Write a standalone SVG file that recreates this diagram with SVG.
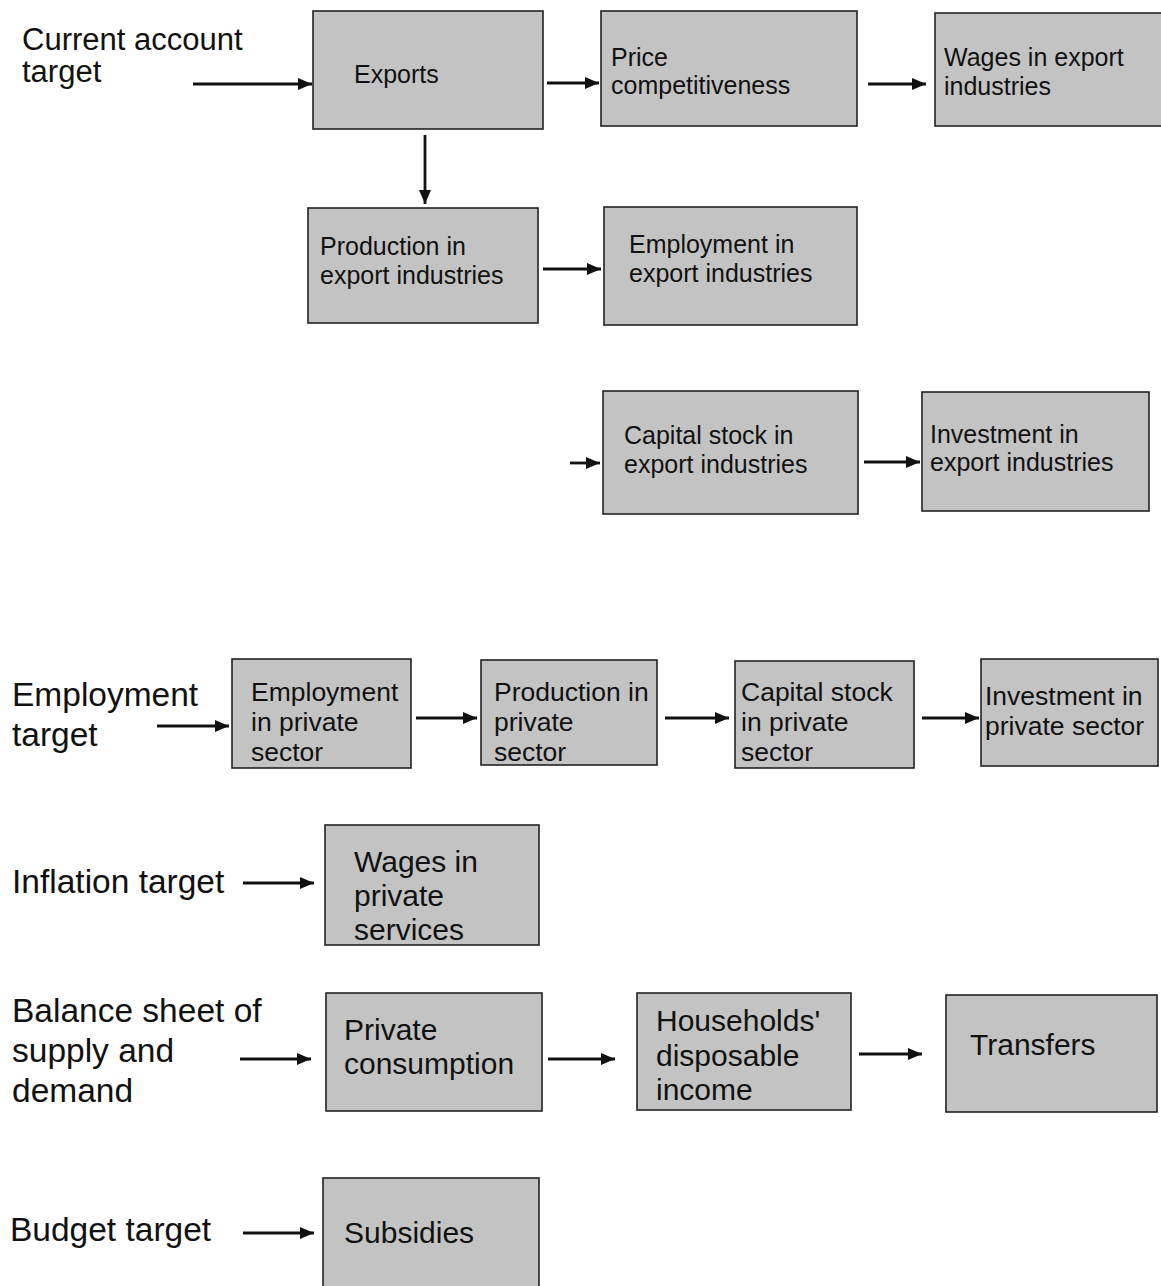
<svg xmlns="http://www.w3.org/2000/svg" width="1161" height="1286" viewBox="0 0 1161 1286">
<style>
.box{fill:#c3c3c3;stroke:#222;stroke-width:1.6}
.t{font-family:"Liberation Sans",Arial,sans-serif;fill:#111}
.s25{font-size:25px}
.s27{font-size:26.5px}
.s30{font-size:30px}
.lab{font-size:33.5px}
.conn{stroke:#111;stroke-width:2.8;fill:none;marker-end:url(#ah)}
</style>
<defs>
<marker id="ah" markerUnits="userSpaceOnUse" viewBox="0 0 14 12" refX="14" refY="6" markerWidth="14" markerHeight="12" orient="auto">
<path d="M0,0 L14,6 L0,12 z" fill="#111"/>
</marker>
</defs>
<rect width="1161" height="1286" fill="#fff"/>

<g id="labels">
<g id="current-account-target"><text class="t" x="22" y="50" font-size="31">Current account</text><text class="t" x="22" y="82" font-size="31">target</text></g>
<g id="employment-target"><text class="t lab" x="12" y="706">Employment</text><text class="t lab" x="12" y="746">target</text></g>
<g id="inflation-target"><text class="t lab" x="12" y="893">Inflation target</text></g>
<g id="balance-sheet"><text class="t lab" x="12" y="1022">Balance sheet of</text><text class="t lab" x="12" y="1062">supply and</text><text class="t lab" x="12" y="1102">demand</text></g>
<g id="budget-target"><text class="t lab" x="10" y="1241">Budget target</text></g>
</g>

<g id="exports"><rect class="box" x="313" y="11" width="230" height="118"/><text class="t s25" x="354" y="83">Exports</text></g>
<g id="price-competitiveness"><rect class="box" x="601" y="11" width="256" height="115"/><text class="t s25" x="611" y="66">Price</text><text class="t s25" x="611" y="94">competitiveness</text></g>
<g id="wages-export"><rect class="box" x="935" y="13" width="230" height="113"/><text class="t s25" x="944" y="66">Wages in export</text><text class="t s25" x="944" y="95">industries</text></g>
<g id="production-export"><rect class="box" x="308" y="208" width="230" height="115"/><text class="t s25" x="320" y="255">Production in</text><text class="t s25" x="320" y="284">export industries</text></g>
<g id="employment-export"><rect class="box" x="604" y="207" width="253" height="118"/><text class="t s25" x="629" y="253">Employment in</text><text class="t s25" x="629" y="282">export industries</text></g>
<g id="capital-export"><rect class="box" x="603" y="391" width="255" height="123"/><text class="t s25" x="624" y="444">Capital stock in</text><text class="t s25" x="624" y="473">export industries</text></g>
<g id="investment-export"><rect class="box" x="922" y="392" width="227" height="119"/><text class="t s25" x="930" y="443">Investment in</text><text class="t s25" x="930" y="471">export industries</text></g>

<g id="employment-private"><rect class="box" x="232" y="659" width="179" height="109"/><text class="t s27" x="251" y="701">Employment</text><text class="t s27" x="251" y="731">in private</text><text class="t s27" x="251" y="761">sector</text></g>
<g id="production-private"><rect class="box" x="481" y="660" width="176" height="105"/><text class="t s27" x="494" y="701">Production in</text><text class="t s27" x="494" y="731">private</text><text class="t s27" x="494" y="761">sector</text></g>
<g id="capital-private"><rect class="box" x="735" y="661" width="179" height="107"/><text class="t s27" x="741" y="701">Capital stock</text><text class="t s27" x="741" y="731">in private</text><text class="t s27" x="741" y="761">sector</text></g>
<g id="investment-private"><rect class="box" x="981" y="659" width="177" height="107"/><text class="t s27" x="985" y="705">Investment in</text><text class="t s27" x="985" y="735">private sector</text></g>

<g id="wages-private-services"><rect class="box" x="325" y="825" width="214" height="120"/><text class="t s30" x="354" y="872">Wages in</text><text class="t s30" x="354" y="906">private</text><text class="t s30" x="354" y="940">services</text></g>
<g id="private-consumption"><rect class="box" x="326" y="993" width="216" height="118"/><text class="t s30" x="344" y="1040">Private</text><text class="t s30" x="344" y="1074">consumption</text></g>
<g id="households-income"><rect class="box" x="637" y="993" width="214" height="117"/><text class="t s30" x="656" y="1031">Households'</text><text class="t s30" x="656" y="1066">disposable</text><text class="t s30" x="656" y="1100">income</text></g>
<g id="transfers"><rect class="box" x="946" y="995" width="211" height="117"/><text class="t s30" x="970" y="1055">Transfers</text></g>
<g id="subsidies"><rect class="box" x="323" y="1178" width="216" height="112"/><text class="t s30" x="344" y="1243">Subsidies</text></g>

<g id="connectors">
<line class="conn" x1="193" y1="84" x2="312" y2="84"/>
<line class="conn" x1="547" y1="83" x2="599" y2="83"/>
<line class="conn" x1="868" y1="84" x2="926" y2="84"/>
<line class="conn" x1="425" y1="135" x2="425" y2="204"/>
<line class="conn" x1="543" y1="269" x2="601" y2="269"/>
<line class="conn" x1="570" y1="463" x2="600" y2="463"/>
<line class="conn" x1="864" y1="462" x2="920" y2="462"/>
<line class="conn" x1="157" y1="726" x2="229" y2="726"/>
<line class="conn" x1="416" y1="718" x2="477" y2="718"/>
<line class="conn" x1="665" y1="718" x2="729" y2="718"/>
<line class="conn" x1="922" y1="718" x2="979" y2="718"/>
<line class="conn" x1="243" y1="883" x2="314" y2="883"/>
<line class="conn" x1="240" y1="1059" x2="311" y2="1059"/>
<line class="conn" x1="548" y1="1059" x2="615" y2="1059"/>
<line class="conn" x1="859" y1="1054" x2="922" y2="1054"/>
<line class="conn" x1="243" y1="1233" x2="314" y2="1233"/>
</g>
</svg>
